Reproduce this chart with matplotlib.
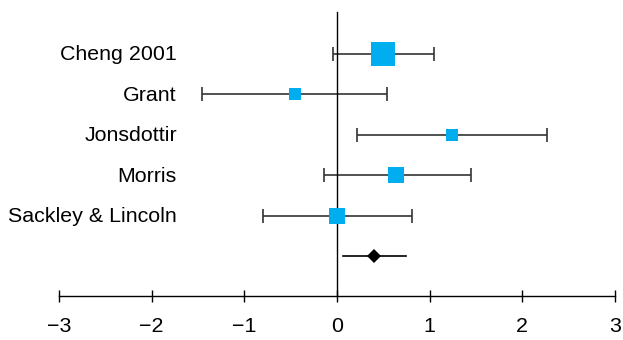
import matplotlib
matplotlib.use("Agg")
import matplotlib.pyplot as plt
import numpy as np

# Study data (effect size with 95% CI, relative weight)
studies = ["Cheng 2001", "Grant", "Jonsdottir", "Morris", "Sackley & Lincoln"]
effect = [0.50, -0.45, 1.24, 0.64, 0.00]
ci_low = [-0.04, -1.46, 0.22, -0.14, -0.80]
ci_high = [1.05, 0.54, 2.27, 1.45, 0.81]
weights = [41.8, 11.4, 11.4, 17.8, 17.8]

pooled_effect = 0.40
pooled_low = 0.06
pooled_high = 0.74

xticks = [-3, -2, -1, 0, 1, 2, 3]

plt.rcParams['font.family'] = ['Liberation Sans', 'DejaVu Sans']

fig = plt.figure(figsize=(6.23, 3.40), dpi=100)
ax = fig.add_axes([0, 0, 1, 1])

rows = np.arange(len(studies))
pooled_row = len(studies)
axis_row = pooled_row + 1.0

blue = '#00aeef'
for i, row in enumerate(rows):
    ax.errorbar(effect[i], row,
                xerr=[[effect[i] - ci_low[i]], [ci_high[i] - effect[i]]],
                fmt='none', ecolor='#333333', elinewidth=1.2,
                capsize=5, capthick=1.2, zorder=2)
    ax.plot(effect[i], row, marker='s', color=blue, linestyle='none',
            markersize=2.57 * np.sqrt(weights[i]), markeredgewidth=0, zorder=3)
    ax.text(-1.727, row + 0.02, studies[i], ha='right', va='center',
            fontsize=15.4)

# pooled estimate
ax.plot([pooled_low, pooled_high], [pooled_row, pooled_row], color='black',
        lw=1.2, zorder=2)
ax.plot(pooled_effect, pooled_row, marker='D', color='black', markersize=7,
        markeredgewidth=0, zorder=3)

# axes layout: px scale so -3..3 spans 59..615 px
ux = 6 / 556
ax.set_xlim(-3 - 59 * ux, 3 + 8 * ux)
uy = 40.4
ax.set_ylim((340 - 54) / uy, -54 / uy)

for s in ['top', 'right']:
    ax.spines[s].set_visible(False)
ax.spines['bottom'].set_position(('data', axis_row))
ax.spines['bottom'].set_bounds(-3, 3)
ax.spines['bottom'].set_linewidth(1.0)
ax.spines['left'].set_position(('data', 0))
ax.spines['left'].set_bounds(-42 / uy, axis_row)
ax.spines['left'].set_linewidth(1.0)

ax.set_xticks(xticks)
ax.set_xticklabels([f"{t}".replace('-', '\u2212') for t in xticks])
ax.tick_params(axis='x', direction='inout', length=8, width=1.0,
               labelsize=15.4, pad=11)
ax.set_yticks([])
ax.patch.set_visible(False)

fig.savefig("out.png", dpi=100)
